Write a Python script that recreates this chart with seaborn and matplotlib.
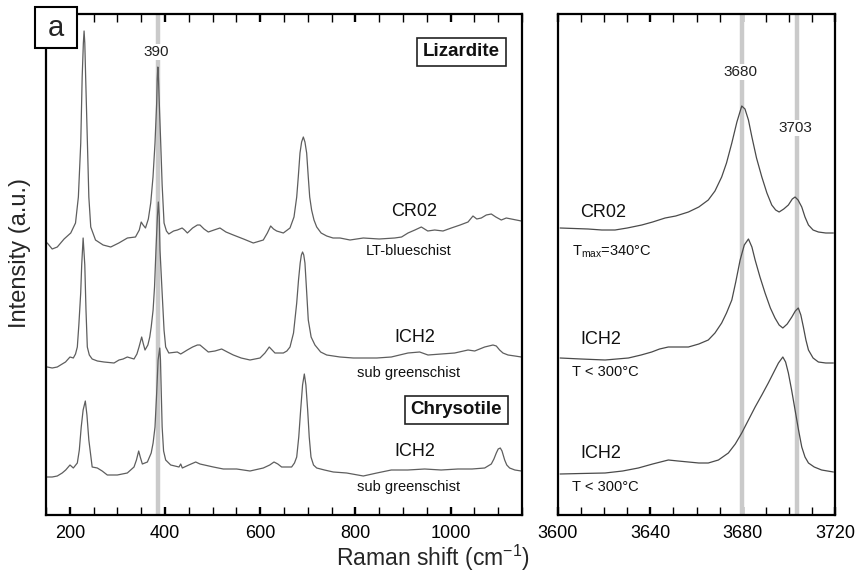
import numpy as np
import pandas as pd
import seaborn as sns
import matplotlib
matplotlib.use("Agg")
import matplotlib.pyplot as plt
from matplotlib.patches import Rectangle
from matplotlib.ticker import MultipleLocator

# ---------------- data (stacked intensities in a.u.) -------------
# Left panel: low wavenumber region
cr02_low_x = [152.7, 163, 173.7, 188, 202, 212, 218, 223, 226, 228.5, 230, 231.5, 233.3, 237,
              240, 244, 254, 270, 286, 303, 321, 338, 346, 350, 354, 359, 365, 370, 374.8, 379,
              382.5, 383.7, 385, 386.3, 388, 391, 394, 398, 403, 408, 418, 426, 436, 441, 447,
              458, 468, 473.5, 482, 491, 503, 515.5, 528, 543.5, 565, 585.5, 606.5, 615, 622,
              628, 634.6, 648.6, 662.6, 671, 676.7, 680, 683.6, 687, 690.6, 694, 697.6, 701,
              704, 708, 713, 718.7, 728, 739.7, 753, 767.6, 788.7, 816.6, 850, 882.6, 897,
              910.5, 925, 938.5, 952, 966.6, 984, 1001.5, 1020, 1036.6, 1047, 1055, 1064.5,
              1075, 1085.5, 1095, 1106.5, 1117, 1127.5, 1148.5]
cr02_low_y = [272, 266, 268, 276, 282, 292, 318, 372, 438, 472, 484, 472, 438, 372,
              318, 288, 275, 270, 268, 272, 277, 278, 285, 293, 290, 287, 296, 312, 338, 372,
              412, 436, 448, 436, 412, 372, 330, 292, 284, 281, 284, 285, 287, 285, 282,
              287, 290, 290, 286, 283, 285, 287, 283, 280, 276, 272, 275, 282, 289,
              286, 284, 282, 287, 298, 318, 338, 362, 373, 378, 373, 362, 338,
              318, 305, 295, 288, 282, 279, 277, 277, 275, 277, 276, 277, 278,
              282, 285, 288, 284, 285, 284, 287, 290, 293, 299, 296, 297,
              300, 301, 298, 295, 297, 296, 294]

ich2l_low_x = [152.7, 163, 173.7, 184, 191, 200.4, 207.4, 212, 215.8, 219, 222.9, 225, 228,
               231.5, 234, 236.8, 241, 247, 258, 271.8, 292.9, 303.4, 312, 320.8, 334.9, 341,
               345.4, 351, 354, 358, 364, 368, 371, 375, 378, 381, 384, 386, 388, 389.5, 394,
               398, 401.4, 408, 425.8, 433, 440, 446.8, 458, 468, 473.5, 491, 505, 519, 531,
               543.5, 560, 578.6, 599.6, 610, 619, 631, 648.6, 656, 662.6, 670, 676.7, 680.5,
               684, 686.5, 689, 691.5, 694, 697, 701, 707, 715, 727, 739.7, 767.6, 795.6,
               816.6, 845, 875.4, 910.5, 935, 952.5, 980.5, 1008.6, 1036.6, 1050.6, 1071.6,
               1089, 1096, 1103, 1110, 1120.6, 1135, 1148.5]
ich2l_low_y = [148, 147, 148, 151, 153, 158, 157, 161, 168, 190, 222, 250, 277,
               250, 205, 168, 160, 156, 154, 153, 152, 155, 156, 158, 156, 161,
               168, 178, 172, 165, 170, 178, 188, 205, 228, 265, 298, 313, 298, 265, 222,
               185, 168, 162, 163, 161, 163, 165, 168, 170, 170, 163, 164, 166, 163,
               160, 157, 155, 157, 162, 168, 162, 162, 164, 168, 182, 212, 235,
               252, 260, 263, 260, 252, 228, 195, 178, 170, 163, 160, 158, 157,
               157, 157, 158, 162, 163, 160, 161, 162, 165, 164, 168,
               170, 169, 165, 162, 160, 159, 158]

ich2c_low_x = [152.7, 163, 173.7, 184, 191.4, 200.4, 207.4, 215.8, 220, 224, 228, 232.6, 236,
               240, 247, 257.8, 268, 278.8, 299.8, 320.8, 334.9, 340, 344.7, 348, 352.4, 363,
               371, 375, 379, 382.5, 385.5, 389, 390.5, 392.2, 394, 397, 401.4, 412, 429.4,
               433, 436.4, 450, 464.5, 473.5, 501.5, 522.5, 550.6, 578.6, 606.5, 620, 629,
               637, 645, 666, 672, 676.7, 681, 685, 689, 692.7, 696, 699.7, 703, 706.7, 712,
               718.7, 735, 753.6, 781.7, 816.6, 845, 875.4, 910, 945.6, 980, 1015.5, 1045,
               1071.6, 1085.5, 1091, 1096, 1100, 1104.4, 1108, 1113.6, 1118, 1124, 1135, 1148.5]
ich2c_low_y = [38, 38, 39, 42, 45, 50, 47, 52, 65, 88, 105, 114, 100,
               75, 48, 47, 44, 40, 40, 42, 48, 55, 64, 58, 51, 53,
               62, 72, 88, 122, 155, 167, 155, 122, 88, 64, 55, 50, 48,
               51, 47, 50, 53, 51, 48, 46, 46, 44, 47, 50, 53,
               51, 48, 48, 52, 58, 78, 105, 130, 141, 130, 105, 78, 58, 50,
               47, 45, 43, 42, 39, 42, 45, 45, 46, 45, 46, 46,
               47, 51, 56, 62, 66, 67, 64, 55, 50, 47, 45, 44]

# Right panel: OH stretching region
cr02_oh_x = [3600.9, 3607, 3613, 3619, 3624.7, 3630, 3636.3, 3641, 3646.4, 3651, 3656.5, 3661,
             3665.1, 3668, 3670.9, 3673, 3675.3, 3677.5, 3679.6, 3681, 3682.5, 3684, 3686,
             3688.3, 3690.5, 3692.6, 3694.3, 3695.8, 3697.8, 3699.8, 3701.5, 3702.7, 3704,
             3705.6, 3707, 3708.5, 3710.5, 3712.8, 3716, 3719.3]
cr02_oh_y = [287, 286.5, 286, 285, 285, 287, 290, 293, 297, 299, 303, 308,
             315, 324, 338, 352, 372, 393, 409, 406, 395, 378, 357,
             338, 322, 310, 305, 303, 306, 310, 316, 318, 315,
             308, 298, 290, 285, 283, 282, 282]

ich2l_oh_x = [3600.9, 3610, 3620.4, 3630.5, 3636, 3640.6, 3644, 3647.8, 3652, 3656.5, 3661,
              3665.1, 3668, 3670.9, 3673, 3675.3, 3677, 3678.9, 3680.7, 3682.5, 3684, 3685.4,
              3687.5, 3689.7, 3692, 3694, 3695.8, 3697.4, 3699.3, 3701.3, 3702.8, 3704.1,
              3705.2, 3706.3, 3707.4, 3708.5, 3710.5, 3712.8, 3716, 3719.3]
ich2l_oh_y = [157, 156, 155, 157, 160, 163, 166, 168, 168, 168, 171,
              175, 182, 192, 202, 215, 233, 255, 270, 276, 268, 255,
              238, 222, 207, 197, 190, 187, 191, 198, 204, 207,
              200, 188, 175, 165, 157, 153, 152, 152]

ich2c_oh_x = [3600.9, 3610, 3620.4, 3628, 3634.8, 3641, 3647.8, 3652, 3656.5, 3661, 3665.1,
              3669.5, 3673.8, 3676.8, 3679.6, 3682.5, 3685.4, 3688.3, 3691.1, 3693.3, 3695.5,
              3697.4, 3698.6, 3699.8, 3701.2, 3702.7, 3704.2, 3705.6, 3707, 3708.5, 3711,
              3714.2, 3719.3]
ich2c_oh_y = [41, 41.5, 42, 44, 47, 51, 55, 54, 53, 52, 52,
              55, 62, 71, 82, 95, 108, 120, 132, 142, 152,
              158, 153, 142, 125, 105, 85, 68, 58, 52, 48,
              45, 43]

low_bands = [386]
oh_bands = [3679.7, 3703.5]

low_samples = ["CR02", "ICH2", "ICH2"]
low_facies = ["LT-blueschist", "sub greenschist", "sub greenschist"]
oh_samples = ["CR02", "ICH2", "ICH2"]
oh_temps = [r"T$_{\mathregular{max}}$=340°C", "T < 300°C", "T < 300°C"]

low_xticks = [200, 400, 600, 800, 1000]
oh_xticks = [3600, 3640, 3680, 3720]

# ---------------- figure -------------
sns.set_style("white")
plt.rcParams['font.family'] = ['Liberation Sans', 'DejaVu Sans']
plt.rcParams['mathtext.fontset'] = 'custom'
plt.rcParams['mathtext.rm'] = 'Liberation Sans'

W, H = 859, 579
fig = plt.figure(figsize=(W / 100, H / 100), dpi=100)
axL = fig.add_axes([46 / W, 1 - 515 / H, 476 / W, 501 / H])
axR = fig.add_axes([558 / W, 1 - 515 / H, 277 / W, 501 / H])

line_col = '#5e5e5e'
band_col = '#cacaca'

def draw(ax, xs, ys, col, lw):
    df = pd.DataFrame({"x": xs, "y": ys})
    sns.lineplot(data=df, x="x", y="y", ax=ax, color=col, lw=lw, sort=False,
                 estimator=None, zorder=3)

for xs, ys in [(cr02_low_x, cr02_low_y), (ich2l_low_x, ich2l_low_y), (ich2c_low_x, ich2c_low_y)]:
    draw(axL, xs, ys, line_col, 0.9)
for xs, ys in [(cr02_oh_x, cr02_oh_y), (ich2l_oh_x, ich2l_oh_y), (ich2c_oh_x, ich2c_oh_y)]:
    draw(axR, xs, ys, '#4a4a4a', 0.9)

for b in low_bands:
    axL.axvline(b, color=band_col, lw=3.2, zorder=1)
for b in oh_bands:
    axR.axvline(b, color=band_col, lw=3.2, zorder=1)

axL.set_xlim(150, 1150)
axR.set_xlim(3600, 3720)
for ax in (axL, axR):
    ax.set_ylim(0, 501)
    ax.set_yticks([])
    ax.set_xlabel("")
    ax.set_ylabel("")
    for s in ax.spines.values():
        s.set_visible(True)
        s.set_linewidth(1.6)
        s.set_color('black')
        s.set_zorder(5)
    ax.tick_params(axis='x', which='both', direction='in', top=True, bottom=True,
                   labelsize=13, pad=7, colors='black')
    ax.tick_params(axis='x', which='major', length=6, width=1.7)
    ax.tick_params(axis='x', which='minor', length=6, width=1.0)

axL.set_xticks(low_xticks)
axL.xaxis.set_minor_locator(MultipleLocator(50))
axR.set_xticks(oh_xticks)
axR.xaxis.set_minor_locator(MultipleLocator(10))

# ---------------- annotations -------------
wbox = dict(facecolor='white', edgecolor='none', pad=1.0)
axL.text(382, 463, "390", ha='center', va='center', fontsize=11, color='#222222', bbox=wbox, zorder=4)
axR.text(3678.9, 443, "3680", ha='center', va='center', fontsize=11, color='#222222', bbox=wbox, zorder=4)
axR.text(3702.7, 387, "3703", ha='center', va='center', fontsize=11, color='#222222', bbox=wbox, zorder=4)

sample_y = [303.5, 177, 63]
facies_y = [264, 142, 28]
for name, fac, ys, yf in zip(low_samples, low_facies, sample_y, facies_y):
    axL.text(924, ys, name, ha='center', va='center', fontsize=13, color='#111111', zorder=4)
    axL.text(912, yf, fac, ha='center', va='center', fontsize=10.5, color='#111111', zorder=4)

tbox = dict(boxstyle='square,pad=0.3', facecolor='white', edgecolor='#222222', lw=1.2)
axL.text(1023, 463, "Lizardite", ha='center', va='center', fontsize=13.5, fontweight='bold',
         color='#111111', bbox=tbox, zorder=6)
axL.text(1012, 105, "Chrysotile", ha='center', va='center', fontsize=13.5, fontweight='bold',
         color='#111111', bbox=tbox, zorder=6)

oh_sample_y = [303, 176, 62]
oh_temp_y = [260, 139, 24]
for name, t, ys, yt in zip(oh_samples, oh_temps, oh_sample_y, oh_temp_y):
    axR.text(3609.5, ys, name, ha='left', va='center', fontsize=13, color='#111111', zorder=4)
    axR.text(3606, yt, t, ha='left', va='baseline', fontsize=10.5, color='#111111', zorder=4)

# panel letter box
fig.add_artist(Rectangle((35 / W, 1 - 48 / H), 42 / W, 41 / H, transform=fig.transFigure,
                         facecolor='white', edgecolor='black', lw=1.5, zorder=10))
fig.text(56 / W, 1 - 28 / H, "a", ha='center', va='center', fontsize=21, zorder=11)

fig.text(20.5 / W, 1 - 253 / H, "Intensity (a.u.)", rotation=90, ha='center', va='center',
         fontsize=17)
fig.text(433 / W, 1 - 558 / H, r"Raman shift (cm$^{\mathregular{-1}}$)", ha='center',
         va='center', fontsize=16.5)

fig.savefig("out.png", dpi=100)
